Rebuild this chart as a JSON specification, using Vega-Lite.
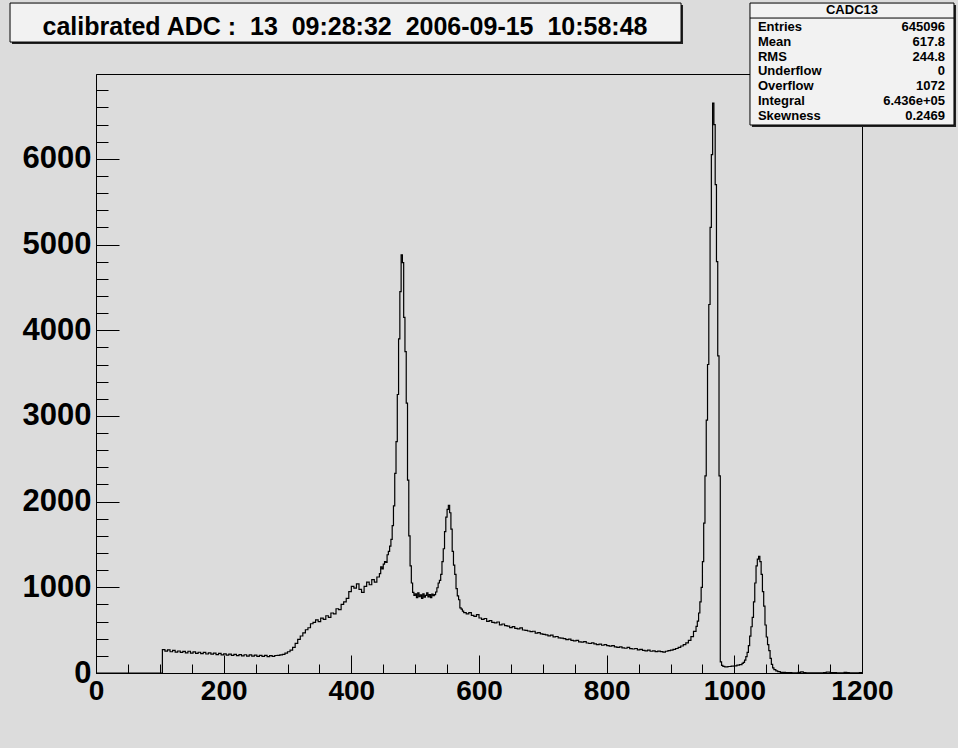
{
  "$schema": "https://vega.github.io/schema/vega-lite/v6.json",
  "width": 766,
  "height": 599,
  "autosize": "none",
  "padding": {"left": 96, "top": 74, "right": 96, "bottom": 75},
  "background": "#dcdcdc",
  "config": {
    "view": {"stroke": "black", "strokeWidth": 1, "fill": "#dcdcdc"},
    "axis": {"grid": false, "labelFont": "Liberation Sans", "labelFontWeight": "bold", "labelFontSize": 28, "labelColor": "black", "domainColor": "black", "tickColor": "black", "tickWidth": 1, "domainWidth": 1, "labelFlush": false, "labelOverlap": false, "labelBound": false, "format": "d"}
  },
  "data": {"values": [
    {"adc": 0, "count": 0}, {"adc": 104, "count": 272}, {"adc": 108, "count": 255}, {"adc": 112, "count": 270}, {"adc": 116, "count": 248}, {"adc": 120, "count": 264}, {"adc": 124, "count": 244}, {"adc": 128, "count": 257}, {"adc": 132, "count": 240}, {"adc": 136, "count": 252}, {"adc": 140, "count": 236}, {"adc": 144, "count": 254}, {"adc": 148, "count": 233}, {"adc": 152, "count": 246}, {"adc": 156, "count": 230}, {"adc": 160, "count": 242}, {"adc": 164, "count": 226}, {"adc": 168, "count": 240}, {"adc": 172, "count": 222}, {"adc": 176, "count": 235}, {"adc": 180, "count": 220}, {"adc": 184, "count": 232}, {"adc": 188, "count": 215}, {"adc": 192, "count": 228}, {"adc": 196, "count": 211}, {"adc": 200, "count": 224}, {"adc": 204, "count": 209}, {"adc": 208, "count": 221}, {"adc": 212, "count": 205}, {"adc": 216, "count": 218}, {"adc": 220, "count": 202}, {"adc": 224, "count": 215}, {"adc": 228, "count": 200}, {"adc": 232, "count": 213}, {"adc": 236, "count": 197}, {"adc": 240, "count": 211}, {"adc": 244, "count": 196}, {"adc": 248, "count": 208}, {"adc": 252, "count": 194}, {"adc": 256, "count": 206}, {"adc": 260, "count": 193}, {"adc": 264, "count": 205}, {"adc": 268, "count": 192}, {"adc": 272, "count": 203}, {"adc": 276, "count": 194}, {"adc": 280, "count": 204}, {"adc": 284, "count": 205}, {"adc": 288, "count": 211}, {"adc": 292, "count": 218}, {"adc": 296, "count": 233}, {"adc": 300, "count": 248},
    {"adc": 304, "count": 268}, {"adc": 308, "count": 300}, {"adc": 312, "count": 345}, {"adc": 316, "count": 392}, {"adc": 320, "count": 432}, {"adc": 324, "count": 468}, {"adc": 328, "count": 505}, {"adc": 332, "count": 528}, {"adc": 336, "count": 575}, {"adc": 340, "count": 590}, {"adc": 344, "count": 620}, {"adc": 348, "count": 600}, {"adc": 352, "count": 640}, {"adc": 356, "count": 625}, {"adc": 360, "count": 668}, {"adc": 364, "count": 650}, {"adc": 368, "count": 700}, {"adc": 372, "count": 690}, {"adc": 376, "count": 750}, {"adc": 380, "count": 740}, {"adc": 384, "count": 800}, {"adc": 388, "count": 830}, {"adc": 392, "count": 870}, {"adc": 396, "count": 950}, {"adc": 400, "count": 1010}, {"adc": 404, "count": 990}, {"adc": 408, "count": 1040}, {"adc": 412, "count": 975}, {"adc": 416, "count": 940}, {"adc": 420, "count": 1010}, {"adc": 424, "count": 1060}, {"adc": 428, "count": 1030}, {"adc": 432, "count": 1090}, {"adc": 436, "count": 1060}, {"adc": 440, "count": 1120}, {"adc": 444, "count": 1160}, {"adc": 446, "count": 1240}, {"adc": 448, "count": 1215}, {"adc": 450, "count": 1270}, {"adc": 452, "count": 1300}, {"adc": 454, "count": 1290}, {"adc": 456, "count": 1380}, {"adc": 458, "count": 1420}, {"adc": 460, "count": 1480}, {"adc": 462, "count": 1560}, {"adc": 464, "count": 1720}, {"adc": 466, "count": 1950}, {"adc": 468, "count": 2330}, {"adc": 470, "count": 2700}, {"adc": 472, "count": 3250}, {"adc": 474, "count": 3900}, {"adc": 476, "count": 4450}, {"adc": 478, "count": 4880}, {"adc": 480, "count": 4790}, {"adc": 482, "count": 4150}, {"adc": 484, "count": 3750}, {"adc": 486, "count": 3150}, {"adc": 488, "count": 2250}, {"adc": 490, "count": 1600}, {"adc": 492, "count": 1250}, {"adc": 494, "count": 1050},
    {"adc": 496, "count": 940}, {"adc": 498, "count": 905}, {"adc": 500, "count": 925}, {"adc": 502, "count": 880}, {"adc": 504, "count": 935}, {"adc": 506, "count": 890}, {"adc": 508, "count": 912}, {"adc": 510, "count": 870}, {"adc": 512, "count": 925}, {"adc": 514, "count": 885}, {"adc": 516, "count": 905}, {"adc": 518, "count": 935}, {"adc": 520, "count": 888}, {"adc": 522, "count": 915}, {"adc": 524, "count": 880}, {"adc": 526, "count": 922}, {"adc": 528, "count": 902}, {"adc": 530, "count": 915}, {"adc": 532, "count": 945}, {"adc": 534, "count": 995}, {"adc": 536, "count": 1050}, {"adc": 538, "count": 1080}, {"adc": 540, "count": 1150}, {"adc": 542, "count": 1300}, {"adc": 544, "count": 1450}, {"adc": 546, "count": 1650}, {"adc": 548, "count": 1820}, {"adc": 550, "count": 1910}, {"adc": 552, "count": 1955}, {"adc": 554, "count": 1870}, {"adc": 556, "count": 1680}, {"adc": 558, "count": 1420}, {"adc": 560, "count": 1260}, {"adc": 562, "count": 1150}, {"adc": 564, "count": 985}, {"adc": 566, "count": 900}, {"adc": 568, "count": 855}, {"adc": 570, "count": 760}, {"adc": 572, "count": 745}, {"adc": 574, "count": 722}, {"adc": 576, "count": 705}, {"adc": 580, "count": 690}, {"adc": 584, "count": 705}, {"adc": 588, "count": 672}, {"adc": 592, "count": 660}, {"adc": 596, "count": 682},
    {"adc": 600, "count": 642}, {"adc": 604, "count": 625}, {"adc": 608, "count": 636}, {"adc": 612, "count": 603}, {"adc": 616, "count": 612}, {"adc": 620, "count": 590}, {"adc": 624, "count": 584}, {"adc": 628, "count": 595}, {"adc": 632, "count": 562}, {"adc": 636, "count": 572}, {"adc": 640, "count": 552}, {"adc": 644, "count": 548}, {"adc": 648, "count": 530}, {"adc": 652, "count": 542}, {"adc": 656, "count": 520}, {"adc": 660, "count": 516}, {"adc": 664, "count": 527}, {"adc": 668, "count": 502}, {"adc": 672, "count": 497}, {"adc": 676, "count": 490}, {"adc": 680, "count": 482}, {"adc": 684, "count": 487}, {"adc": 688, "count": 466}, {"adc": 692, "count": 471}, {"adc": 696, "count": 456}, {"adc": 700, "count": 450}, {"adc": 704, "count": 446}, {"adc": 708, "count": 434}, {"adc": 712, "count": 441}, {"adc": 716, "count": 421}, {"adc": 720, "count": 426}, {"adc": 724, "count": 410}, {"adc": 728, "count": 406}, {"adc": 732, "count": 400}, {"adc": 736, "count": 389}, {"adc": 740, "count": 396}, {"adc": 744, "count": 380}, {"adc": 748, "count": 374}, {"adc": 752, "count": 381}, {"adc": 756, "count": 364}, {"adc": 760, "count": 360}, {"adc": 764, "count": 366}, {"adc": 768, "count": 350}, {"adc": 772, "count": 344}, {"adc": 776, "count": 351}, {"adc": 780, "count": 340}, {"adc": 784, "count": 330}, {"adc": 788, "count": 336}, {"adc": 792, "count": 324}, {"adc": 796, "count": 331}, {"adc": 800, "count": 320}, {"adc": 804, "count": 314}, {"adc": 808, "count": 319}, {"adc": 812, "count": 305}, {"adc": 816, "count": 300}, {"adc": 820, "count": 306}, {"adc": 824, "count": 294}, {"adc": 828, "count": 289}, {"adc": 832, "count": 300}, {"adc": 836, "count": 284}, {"adc": 840, "count": 280}, {"adc": 844, "count": 286}, {"adc": 848, "count": 271}, {"adc": 852, "count": 276}, {"adc": 856, "count": 264}, {"adc": 860, "count": 259}, {"adc": 864, "count": 268}, {"adc": 868, "count": 254}, {"adc": 872, "count": 258}, {"adc": 876, "count": 249}, {"adc": 880, "count": 256}, {"adc": 884, "count": 250}, {"adc": 888, "count": 244}, {"adc": 892, "count": 254}, {"adc": 896, "count": 262}, {"adc": 900, "count": 266}, {"adc": 904, "count": 276}, {"adc": 908, "count": 286}, {"adc": 912, "count": 300}, {"adc": 916, "count": 315}, {"adc": 920, "count": 332}, {"adc": 924, "count": 352}, {"adc": 928, "count": 380}, {"adc": 932, "count": 425}, {"adc": 936, "count": 485}, {"adc": 940, "count": 545}, {"adc": 942, "count": 605}, {"adc": 944, "count": 700}, {"adc": 946, "count": 830},
    {"adc": 948, "count": 1000}, {"adc": 950, "count": 1300}, {"adc": 952, "count": 1750}, {"adc": 954, "count": 2300}, {"adc": 956, "count": 2950}, {"adc": 958, "count": 3600}, {"adc": 960, "count": 4300}, {"adc": 962, "count": 5200}, {"adc": 964, "count": 6050}, {"adc": 966, "count": 6650}, {"adc": 968, "count": 6400}, {"adc": 970, "count": 5700}, {"adc": 972, "count": 4800}, {"adc": 974, "count": 3700}, {"adc": 976, "count": 2300}, {"adc": 978, "count": 130}, {"adc": 980, "count": 88}, {"adc": 982, "count": 78}, {"adc": 985, "count": 72}, {"adc": 990, "count": 76}, {"adc": 995, "count": 80}, {"adc": 1000, "count": 84}, {"adc": 1004, "count": 92}, {"adc": 1008, "count": 98}, {"adc": 1012, "count": 112}, {"adc": 1014, "count": 125}, {"adc": 1016, "count": 150}, {"adc": 1018, "count": 190}, {"adc": 1020, "count": 240}, {"adc": 1022, "count": 320}, {"adc": 1024, "count": 430}, {"adc": 1026, "count": 540}, {"adc": 1028, "count": 650}, {"adc": 1030, "count": 830}, {"adc": 1032, "count": 1050}, {"adc": 1034, "count": 1250}, {"adc": 1036, "count": 1330}, {"adc": 1038, "count": 1360}, {"adc": 1040, "count": 1300}, {"adc": 1042, "count": 1150}, {"adc": 1044, "count": 950}, {"adc": 1046, "count": 780}, {"adc": 1048, "count": 560}, {"adc": 1050, "count": 420}, {"adc": 1052, "count": 330}, {"adc": 1054, "count": 260}, {"adc": 1056, "count": 170}, {"adc": 1058, "count": 100}, {"adc": 1060, "count": 60}, {"adc": 1062, "count": 40}, {"adc": 1065, "count": 25}, {"adc": 1068, "count": 15}, {"adc": 1072, "count": 8}, {"adc": 1080, "count": 4}, {"adc": 1090, "count": 3}, {"adc": 1100, "count": 8}, {"adc": 1104, "count": 12}, {"adc": 1108, "count": 6}, {"adc": 1112, "count": 3}, {"adc": 1120, "count": 2}, {"adc": 1140, "count": 6}, {"adc": 1144, "count": 10}, {"adc": 1150, "count": 4}, {"adc": 1160, "count": 2}, {"adc": 1172, "count": 8}, {"adc": 1176, "count": 5}, {"adc": 1180, "count": 2}, {"adc": 1196, "count": 6}, {"adc": 1200, "count": 0}
  ]},
  "resolve": {"axis": {"x": "independent", "y": "independent"}},
  "layer": [
    {
      "mark": {"type": "line", "interpolate": "step-after", "color": "black", "strokeWidth": 1.2},
      "encoding": {
        "x": {"field": "adc", "type": "quantitative", "scale": {"domain": [0, 1200], "nice": false, "zero": false}, "axis": {"orient": "bottom", "title": null, "values": [0, 200, 400, 600, 800, 1000, 1200], "ticks": false, "labelPadding": 4, "labelBaseline": "top"}},
        "y": {"field": "count", "type": "quantitative", "scale": {"domain": [0, 6990], "nice": false, "zero": false}, "axis": {"orient": "left", "title": null, "values": [0, 1000, 2000, 3000, 4000, 5000, 6000], "ticks": false, "labelPadding": 5, "labelBaseline": "middle", "labelAlign": "right", "labelFontSize": 31}}
      }
    },
    {
      "mark": {"type": "line", "interpolate": "step-after", "opacity": 0},
      "encoding": {
        "x": {"field": "adc", "type": "quantitative", "scale": {"domain": [0, 1200], "nice": false, "zero": false}, "axis": {"orient": "bottom", "title": null, "values": [0, 200, 400, 600, 800, 1000, 1200], "labels": false, "domain": false, "tickSize": -18}},
        "y": {"field": "count", "type": "quantitative", "scale": {"domain": [0, 6990], "nice": false, "zero": false}, "axis": {"orient": "left", "title": null, "values": [0, 1000, 2000, 3000, 4000, 5000, 6000], "labels": false, "domain": false, "tickSize": -23}}
      }
    },
    {
      "mark": {"type": "line", "interpolate": "step-after", "opacity": 0},
      "encoding": {
        "x": {"field": "adc", "type": "quantitative", "scale": {"domain": [0, 1200], "nice": false, "zero": false}, "axis": {"orient": "bottom", "title": null, "values": [50, 100, 150, 250, 300, 350, 450, 500, 550, 650, 700, 750, 850, 900, 950, 1050, 1100, 1150], "labels": false, "domain": false, "tickSize": -9}},
        "y": {"field": "count", "type": "quantitative", "scale": {"domain": [0, 6990], "nice": false, "zero": false}, "axis": {"orient": "left", "title": null, "values": [200, 400, 600, 800, 1200, 1400, 1600, 1800, 2200, 2400, 2600, 2800, 3200, 3400, 3600, 3800, 4200, 4400, 4600, 4800, 5200, 5400, 5600, 5800, 6200, 6400, 6600, 6800], "labels": false, "domain": false, "tickSize": -12}}
      }
    },
    {
      "data": {"values": [{}]},
      "mark": {"type": "rect", "color": "#222222"},
      "encoding": {
        "x": {"datum": -131.6, "type": "quantitative", "scale": {"domain": [0, 1200], "nice": false, "zero": false}, "axis": null},
        "x2": {"datum": 919.6},
        "y": {"datum": 7795, "type": "quantitative", "scale": {"domain": [0, 6990], "nice": false, "zero": false}, "axis": null},
        "y2": {"datum": 7340}
      }
    },
    {
      "data": {"values": [{}]},
      "mark": {"type": "rect", "fill": "#f2f2f2", "stroke": "black", "strokeWidth": 1},
      "encoding": {
        "x": {"datum": -134.7, "type": "quantitative", "scale": {"domain": [0, 1200], "nice": false, "zero": false}, "axis": null},
        "x2": {"datum": 916.5},
        "y": {"datum": 7818, "type": "quantitative", "scale": {"domain": [0, 6990], "nice": false, "zero": false}, "axis": null},
        "y2": {"datum": 7363}
      }
    },
    {
      "data": {"values": [{}]},
      "mark": {"type": "text", "text": "calibrated ADC :\u00a0 13\u00a0 09:28:32\u00a0 2006-09-15\u00a0 10:58:48", "font": "Liberation Sans", "fontWeight": "bold", "fontSize": 25, "align": "center", "baseline": "alphabetic", "color": "black"},
      "encoding": {
        "x": {"datum": 390.1, "type": "quantitative", "scale": {"domain": [0, 1200], "nice": false, "zero": false}, "axis": null},
        "y": {"datum": 7445, "type": "quantitative", "scale": {"domain": [0, 6990], "nice": false, "zero": false}, "axis": null}
      }
    },
    {
      "data": {"values": [{}]},
      "mark": {"type": "rect", "color": "#222222"},
      "encoding": {
        "x": {"datum": 1027.6, "type": "quantitative", "scale": {"domain": [0, 1200], "nice": false, "zero": false}, "axis": null},
        "x2": {"datum": 1347.3},
        "y": {"datum": 7795, "type": "quantitative", "scale": {"domain": [0, 6990], "nice": false, "zero": false}, "axis": null},
        "y2": {"datum": 6371}
      }
    },
    {
      "data": {"values": [{}]},
      "mark": {"type": "rect", "fill": "#f2f2f2", "stroke": "black", "strokeWidth": 1},
      "encoding": {
        "x": {"datum": 1024.5, "type": "quantitative", "scale": {"domain": [0, 1200], "nice": false, "zero": false}, "axis": null},
        "x2": {"datum": 1344.1},
        "y": {"datum": 7818, "type": "quantitative", "scale": {"domain": [0, 6990], "nice": false, "zero": false}, "axis": null},
        "y2": {"datum": 6395}
      }
    },
    {
      "data": {"values": [{}]},
      "mark": {"type": "rule", "color": "black", "strokeWidth": 1},
      "encoding": {
        "x": {"datum": 1024.5, "type": "quantitative", "scale": {"domain": [0, 1200], "nice": false, "zero": false}, "axis": null},
        "x2": {"datum": 1344.1},
        "y": {"datum": 7643, "type": "quantitative", "scale": {"domain": [0, 6990], "nice": false, "zero": false}, "axis": null}
      }
    },
    {
      "data": {"values": [{}]},
      "mark": {"type": "text", "text": "CADC13", "font": "Liberation Sans", "fontWeight": "bold", "fontSize": 13, "align": "center", "baseline": "middle", "color": "black"},
      "encoding": {
        "x": {"datum": 1184.3, "type": "quantitative", "scale": {"domain": [0, 1200], "nice": false, "zero": false}, "axis": null},
        "y": {"datum": 7736, "type": "quantitative", "scale": {"domain": [0, 6990], "nice": false, "zero": false}, "axis": null}
      }
    },
    {
      "data": {"values": [{}]},
      "mark": {"type": "text", "text": ["Entries", "Mean", "RMS", "Underflow", "Overflow", "Integral", "Skewness"], "lineHeight": 14.8, "font": "Liberation Sans", "fontWeight": "bold", "fontSize": 13, "align": "left", "baseline": "top", "color": "black"},
      "encoding": {
        "x": {"datum": 1037, "type": "quantitative", "scale": {"domain": [0, 1200], "nice": false, "zero": false}, "axis": null},
        "y": {"datum": 7608, "type": "quantitative", "scale": {"domain": [0, 6990], "nice": false, "zero": false}, "axis": null}
      }
    },
    {
      "data": {"values": [{}]},
      "mark": {"type": "text", "text": ["645096", "617.8", "244.8", "0", "1072", "6.436e+05", "0.2469"], "lineHeight": 14.8, "font": "Liberation Sans", "fontWeight": "bold", "fontSize": 13, "align": "right", "baseline": "top", "color": "black"},
      "encoding": {
        "x": {"datum": 1330, "type": "quantitative", "scale": {"domain": [0, 1200], "nice": false, "zero": false}, "axis": null},
        "y": {"datum": 7608, "type": "quantitative", "scale": {"domain": [0, 6990], "nice": false, "zero": false}, "axis": null}
      }
    }
  ]
}
